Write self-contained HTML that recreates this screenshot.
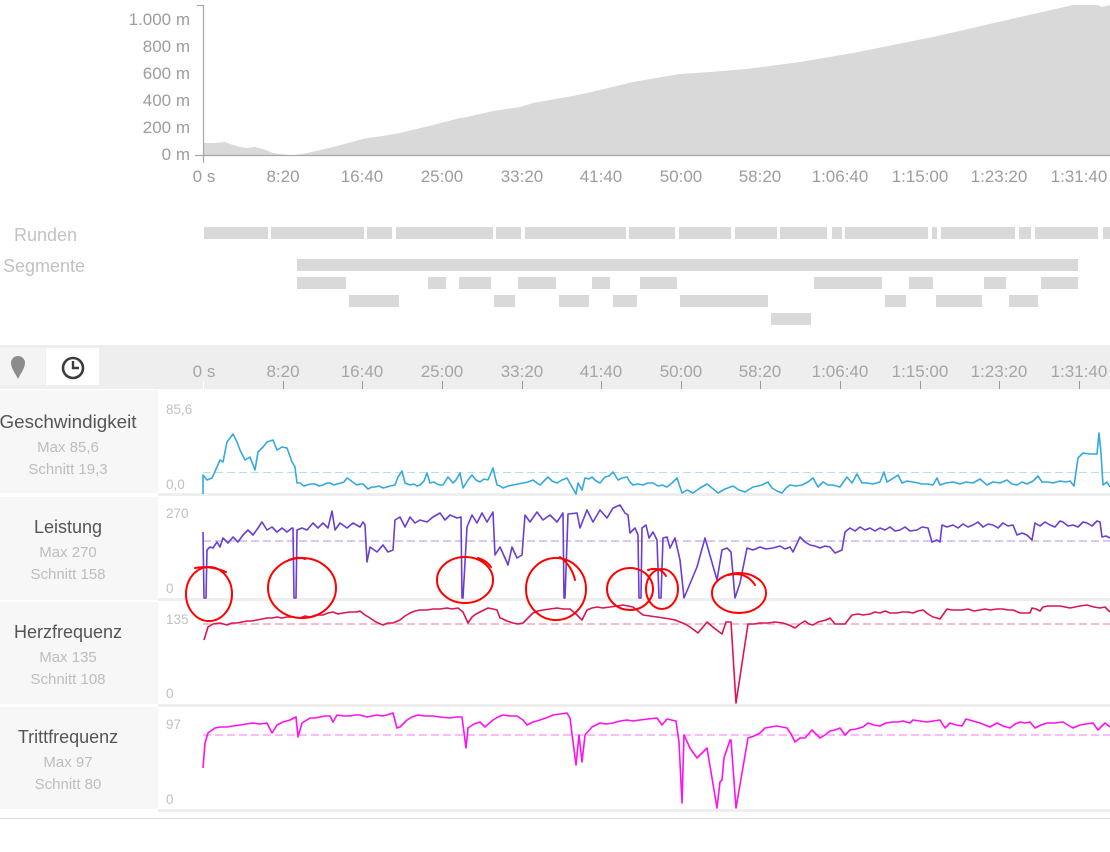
<!DOCTYPE html>
<html><head><meta charset="utf-8">
<style>
html,body{margin:0;padding:0;background:#fff;}
body{width:1110px;height:852px;overflow:hidden;}
svg{display:block;font-family:"Liberation Sans",sans-serif;}
</style></head>
<body>
<svg width="1110" height="852" viewBox="0 0 1110 852" xmlns="http://www.w3.org/2000/svg">
<rect width="1110" height="852" fill="#fff"/>

<!-- Elevation chart -->
<path d="M203,155 L203,143 L213,143 L225,142 L230,144 L240,147 L247,148 L255,147 L263,149 L273,153 L287,155 L295,155 L303,154 L333,147 L367,138 L383,136 L400,133 L433,125 L460,118 L467,117 L493,111 L520,107 L533,103 L567,97 L573,96 L600,90 L633,82 L680,74 L710,72 L747,69 L800,62 L853,53 L933,37 L1020,17 L1073,5 L1098,5 L1102,7 L1110,5 L1110,155 Z" fill="#d9d9d9"/>
<line x1="203.5" y1="5" x2="203.5" y2="163" stroke="#a8a8a8" stroke-width="1.2"/>
<line x1="197" y1="5.5" x2="203" y2="5.5" stroke="#a8a8a8" stroke-width="1.2"/>
<line x1="195" y1="155.5" x2="1110" y2="155.5" stroke="#a8a8a8" stroke-width="1.2"/>
<g fill="#9d9d9d" font-size="17" text-anchor="end">
<text x="190" y="25">1.000 m</text>
<text x="190" y="52">800 m</text>
<text x="190" y="79">600 m</text>
<text x="190" y="106">400 m</text>
<text x="190" y="133">200 m</text>
<text x="190" y="160">0 m</text>
</g>
<g fill="#9d9d9d" font-size="17" text-anchor="middle">
<text x="204" y="182">0 s</text>
<text x="283" y="182">8:20</text>
<text x="362" y="182">16:40</text>
<text x="442" y="182">25:00</text>
<text x="522" y="182">33:20</text>
<text x="601" y="182">41:40</text>
<text x="681" y="182">50:00</text>
<text x="760" y="182">58:20</text>
<text x="840" y="182">1:06:40</text>
<text x="920" y="182">1:15:00</text>
<text x="999" y="182">1:23:20</text>
<text x="1079" y="182">1:31:40</text>
</g>

<!-- Runden / Segmente -->
<g fill="#c2c2c2" font-size="18">
<text x="14" y="241">Runden</text>
<text x="3" y="272">Segmente</text>
</g>
<g fill="#d9d9d9">
<rect x="204" y="227" width="64" height="12"/>
<rect x="271" y="227" width="93" height="12"/>
<rect x="367" y="227" width="25" height="12"/>
<rect x="396" y="227" width="97" height="12"/>
<rect x="496" y="227" width="25" height="12"/>
<rect x="525" y="227" width="101" height="12"/>
<rect x="629" y="227" width="46" height="12"/>
<rect x="679" y="227" width="52" height="12"/>
<rect x="735" y="227" width="42" height="12"/>
<rect x="780" y="227" width="47" height="12"/>
<rect x="832" y="227" width="10" height="12"/>
<rect x="845" y="227" width="83" height="12"/>
<rect x="932" y="227" width="5" height="12"/>
<rect x="941" y="227" width="74" height="12"/>
<rect x="1019" y="227" width="12" height="12"/>
<rect x="1035" y="227" width="63" height="12"/>
<rect x="1103" y="227" width="7" height="12"/>

<rect x="297" y="259" width="781" height="12"/>

<rect x="297" y="277" width="49" height="12"/>
<rect x="428" y="277" width="18" height="12"/>
<rect x="459" y="277" width="32" height="12"/>
<rect x="518" y="277" width="38" height="12"/>
<rect x="592" y="277" width="18" height="12"/>
<rect x="640" y="277" width="37" height="12"/>
<rect x="814" y="277" width="68" height="12"/>
<rect x="909" y="277" width="24" height="12"/>
<rect x="984" y="277" width="22" height="12"/>
<rect x="1041" y="277" width="37" height="12"/>

<rect x="349" y="295" width="50" height="12"/>
<rect x="494" y="295" width="21" height="12"/>
<rect x="559" y="295" width="30" height="12"/>
<rect x="613" y="295" width="24" height="12"/>
<rect x="680" y="295" width="88" height="12"/>
<rect x="885" y="295" width="21" height="12"/>
<rect x="936" y="295" width="46" height="12"/>
<rect x="1009" y="295" width="29" height="12"/>

<rect x="771" y="313" width="40" height="12"/>
</g>

<!-- Toolbar band -->
<rect x="0" y="345" width="1110" height="44" fill="#eeeeee"/>
<rect x="0" y="348" width="45" height="37" fill="#f4f4f4"/>
<rect x="46" y="348" width="53" height="37" fill="#ffffff"/>
<path d="M18,379 C15,373 11,368 11,363 A7,7 0 0 1 25,363 C25,368 21,373 18,379 Z" fill="#8c8c8c"/>
<circle cx="73" cy="368" r="10" fill="none" stroke="#3c3c3c" stroke-width="2.6"/>
<path d="M73,361 L73,368 L79,368" fill="none" stroke="#3c3c3c" stroke-width="2.4"/>
<g fill="#a5a5a5" font-size="17" text-anchor="middle">
<text x="204" y="377">0 s</text>
<text x="283" y="377">8:20</text>
<text x="362" y="377">16:40</text>
<text x="442" y="377">25:00</text>
<text x="522" y="377">33:20</text>
<text x="601" y="377">41:40</text>
<text x="681" y="377">50:00</text>
<text x="760" y="377">58:20</text>
<text x="840" y="377">1:06:40</text>
<text x="920" y="377">1:15:00</text>
<text x="999" y="377">1:23:20</text>
<text x="1079" y="377">1:31:40</text>
</g>
<g stroke="#9a9a9a" stroke-width="1">
<line x1="203.5" y1="381" x2="203.5" y2="389" stroke="#ffffff"/>
<line x1="283.5" y1="381" x2="283.5" y2="389"/>
<line x1="362.5" y1="381" x2="362.5" y2="389"/>
<line x1="442.5" y1="381" x2="442.5" y2="389"/>
<line x1="522.5" y1="381" x2="522.5" y2="389"/>
<line x1="601.5" y1="381" x2="601.5" y2="389"/>
<line x1="681.5" y1="381" x2="681.5" y2="389"/>
<line x1="760.5" y1="381" x2="760.5" y2="389"/>
<line x1="840.5" y1="381" x2="840.5" y2="389"/>
<line x1="920.5" y1="381" x2="920.5" y2="389"/>
<line x1="999.5" y1="381" x2="999.5" y2="389"/>
<line x1="1079.5" y1="381" x2="1079.5" y2="389"/>
</g>

<!-- Left panels -->
<g fill="#f7f7f7">
<rect x="0" y="390" width="158" height="103"/>
<rect x="0" y="497" width="158" height="103"/>
<rect x="0" y="602" width="158" height="102"/>
<rect x="0" y="707" width="158" height="102"/>
</g>
<!-- chart separators -->
<g fill="#eeeeee">
<rect x="158" y="493" width="952" height="3"/>
<rect x="158" y="598" width="952" height="3"/>
<rect x="158" y="704" width="952" height="3"/>
<rect x="158" y="809" width="952" height="3"/>
</g>
<rect x="0" y="818" width="1110" height="1" fill="#dcdcdc"/>

<g text-anchor="middle">
<text x="68" y="428" font-size="18" fill="#555" textLength="137" lengthAdjust="spacingAndGlyphs">Geschwindigkeit</text>
<text x="68" y="452" font-size="15" fill="#bdbdbd">Max 85,6</text>
<text x="68" y="474" font-size="15" fill="#bdbdbd">Schnitt 19,3</text>

<text x="68" y="533" font-size="18" fill="#555">Leistung</text>
<text x="68" y="557" font-size="15" fill="#bdbdbd">Max 270</text>
<text x="68" y="579" font-size="15" fill="#bdbdbd">Schnitt 158</text>

<text x="68" y="638" font-size="18" fill="#555">Herzfrequenz</text>
<text x="68" y="662" font-size="15" fill="#bdbdbd">Max 135</text>
<text x="68" y="684" font-size="15" fill="#bdbdbd">Schnitt 108</text>

<text x="68" y="743" font-size="18" fill="#555">Trittfrequenz</text>
<text x="68" y="767" font-size="15" fill="#bdbdbd">Max 97</text>
<text x="68" y="789" font-size="15" fill="#bdbdbd">Schnitt 80</text>
</g>

<g fill="#c0c0c0" font-size="13.5">
<text x="166" y="414">85,6</text>
<text x="166" y="489">0,0</text>
<text x="166" y="518">270</text>
<text x="166" y="593">0</text>
<text x="166" y="624">135</text>
<text x="166" y="698">0</text>
<text x="166" y="729">97</text>
<text x="166" y="804">0</text>
</g>

<!-- average dashed lines -->
<line x1="203" y1="472.5" x2="1110" y2="472.5" stroke="#b6dff0" stroke-width="1" stroke-dasharray="8,4"/>
<line x1="203" y1="541" x2="1110" y2="541" stroke="#c9b6ef" stroke-width="1.5" stroke-dasharray="8,4"/>
<line x1="203" y1="624" x2="1110" y2="624" stroke="#f4a7c0" stroke-width="1.5" stroke-dasharray="8,4"/>
<line x1="203" y1="735" x2="1110" y2="735" stroke="#f8a6f8" stroke-width="1.5" stroke-dasharray="8,4"/>

<!-- Speed -->
<polyline fill="none" stroke="#33a9e0" stroke-width="1.6" stroke-linejoin="round" points="203,494 203,475 207,480 212,478 217,467 220,460 223,462 227,442 233,434 237,442 240,450 245,460 250,457 255,470 258,452 263,447 267,442 273,440 277,450 282,447 287,448 292,462 295,467 297,483 300,483 304,486 307,485 311,484 315,484 319,486 323,485 327,483 330,483 334,485 337,484 341,483 344,482 347,478 350,480 354,483 357,485 360,484 363,484 368,489 372,487 375,487 379,486 383,488 387,487 390,486 395,485 398,477 402,471 405,483 410,485 414,484 417,486 420,485 424,481 427,473 430,483 434,482 437,484 440,485 443,485 448,477 453,483 456,480 460,473 463,488 468,480 472,475 476,480 480,482 484,479 488,480 493,468 497,485 500,486 503,488 508,486 513,485 518,484 523,483 528,482 533,480 537,483 540,485 544,481 548,477 552,481 557,483 562,480 567,478 572,487 576,494 578,483 582,490 585,478 589,479 592,477 596,481 600,483 605,477 609,476 613,472 618,480 622,478 627,477 630,482 633,485 638,484 643,485 648,483 653,483 658,486 662,485 667,487 672,483 677,478 682,493 687,490 693,493 700,488 707,484 712,488 718,493 725,489 733,486 739,490 745,492 753,487 758,486 762,485 768,482 772,488 777,491 782,493 786,488 790,485 796,486 802,485 808,482 813,478 818,487 823,482 828,485 833,485 840,487 847,477 852,483 857,474 862,483 867,483 873,484 880,482 884,472 887,482 892,479 898,475 902,483 907,481 913,482 918,483 922,484 928,484 933,485 937,478 940,485 946,483 953,482 960,484 966,482 973,483 980,479 987,485 993,482 1000,483 1007,480 1012,484 1017,485 1022,482 1027,484 1033,481 1038,476 1042,482 1048,482 1053,483 1060,481 1066,482 1070,481 1074,486 1078,458 1083,453 1090,454 1097,454 1099,433 1101,453 1103,485 1107,482 1110,487"/>

<!-- Leistung -->
<polyline fill="none" stroke="#6a3dd4" stroke-width="1.6" stroke-linejoin="round" points="203,532 204,598 206,598 207,550 210,547 213,548 217,542 220,547 223,538 228,543 233,537 238,542 243,535 248,530 253,535 258,528 262,522 267,530 272,527 277,532 282,528 287,532 292,528 293,528 294,598 296,598 297,530 302,528 307,530 313,523 318,528 323,523 328,528 332,511 335,530 340,523 347,528 353,523 360,527 363,522 365,525 367,562 370,547 377,552 383,545 388,552 393,550 395,520 400,517 405,527 410,517 415,523 420,520 427,522 433,517 440,513 445,520 450,515 457,518 461,517 462,598 463,598 467,527 472,515 477,523 482,513 487,522 493,512 495,555 500,547 505,558 508,565 512,547 517,558 522,555 525,515 530,522 537,512 543,520 550,515 557,522 563,513 564,598 565,598 568,514 577,513 580,528 587,510 593,522 600,510 607,518 613,508 620,505 625,513 628,515 630,533 635,528 638,535 639,598 641,598 642,528 646,525 649,538 653,532 657,540 659,598 661,598 663,538 667,537 670,548 675,538 680,560 684,598 697,567 705,538 717,580 722,550 727,548 731,552 735,598 740,583 747,548 753,550 760,547 766,549 773,548 780,546 785,549 790,547 793,552 800,537 805,542 810,545 815,546 820,548 825,546 830,547 835,553 842,550 845,532 850,528 855,531 860,527 865,530 870,528 875,531 880,528 885,530 890,527 895,531 900,530 905,527 910,531 917,530 922,527 928,528 932,542 937,540 940,542 942,525 947,527 953,525 958,528 963,524 968,527 973,525 978,522 983,527 988,524 993,525 998,528 1003,523 1008,526 1013,525 1017,535 1022,533 1027,535 1032,540 1035,523 1040,526 1045,522 1050,525 1055,527 1060,521 1063,522 1068,526 1073,525 1078,527 1083,522 1087,523 1092,526 1097,521 1100,522 1102,537 1106,536 1110,538"/>

<!-- Herzfrequenz -->
<polyline fill="none" stroke="#dc1450" stroke-width="1.6" stroke-linejoin="round" points="204,640 208,627 213,624 220,623 227,625 232,623 237,623 242,622 247,621 252,621 257,620 262,619 267,618 272,618 277,617 282,618 287,617 293,617 300,618 305,616 310,617 316,615 323,615 328,613 333,612 338,614 343,613 350,612 357,612 360,611 365,615 370,618 376,622 383,625 388,623 393,623 400,620 405,616 410,613 415,611 420,610 427,610 433,609 440,609 447,608 452,609 458,608 463,612 468,623 472,617 476,614 480,612 484,610 488,608 493,609 497,610 500,618 503,619 507,621 510,622 513,623 518,624 523,623 528,618 533,613 538,611 543,610 550,609 557,608 563,609 570,609 576,614 582,620 587,610 592,608 597,607 603,608 610,607 617,606 623,605 628,606 633,607 638,611 643,615 650,616 657,617 664,618 670,619 675,620 680,622 685,624 690,627 694,630 698,633 703,627 707,622 714,628 722,634 726,622 731,622 736,703 748,624 754,624 760,623 768,623 775,622 783,623 789,625 795,628 800,624 805,621 809,624 813,625 818,622 822,621 826,620 830,618 835,624 840,624 845,624 852,615 858,614 863,615 870,614 875,612 880,613 885,611 890,613 897,613 902,612 908,612 913,613 918,611 923,610 928,614 933,617 937,618 940,619 947,609 952,610 957,610 963,610 968,609 974,611 980,610 985,609 990,610 997,609 1003,609 1008,610 1013,610 1020,613 1025,613 1030,613 1032,608 1036,609 1040,611 1043,607 1048,606 1054,606 1060,606 1065,607 1070,608 1075,607 1080,606 1087,605 1094,607 1100,608 1105,607 1110,612"/>

<!-- Trittfrequenz -->
<polyline fill="none" stroke="#ff10f0" stroke-width="1.6" stroke-linejoin="round" points="203,768 205,743 208,733 215,728 221,727 227,727 233,726 240,725 246,724 253,723 260,724 267,723 272,733 277,725 283,722 290,720 296,717 298,737 302,723 310,718 315,718 320,717 325,716 330,716 333,722 337,715 344,716 350,716 355,715 360,715 367,717 372,716 377,715 382,716 387,715 393,713 397,728 400,727 407,720 412,717 418,715 425,716 433,716 440,717 450,718 456,717 462,717 466,748 468,728 474,724 480,722 485,727 493,720 498,717 503,715 510,716 517,716 523,720 527,725 533,722 540,720 546,718 553,715 560,714 567,713 570,718 576,765 579,735 582,762 585,735 592,727 600,723 606,724 613,723 620,721 627,720 633,721 640,720 648,719 657,718 662,725 667,719 676,721 679,742 682,803 684,735 690,748 697,758 703,752 707,748 717,808 720,782 722,780 724,758 730,740 731,740 736,808 748,738 754,736 760,733 765,728 771,727 777,726 782,727 787,728 791,734 795,742 800,738 805,738 812,730 816,734 820,738 825,735 830,731 835,730 840,728 845,735 850,730 856,729 863,727 868,723 874,725 880,726 886,723 893,722 898,722 903,721 910,723 913,720 920,721 927,722 933,721 940,720 945,728 950,723 956,725 962,726 966,719 973,721 980,723 985,725 990,727 997,723 1003,726 1010,728 1015,724 1020,722 1025,723 1030,722 1035,728 1041,725 1047,723 1055,723 1063,722 1068,725 1073,728 1080,725 1086,724 1093,723 1098,730 1105,723 1110,727"/>

<!-- Red annotation circles -->
<g fill="none" stroke="#ff0000" stroke-width="2" stroke-linecap="round">
<ellipse cx="209" cy="594" rx="23" ry="27"/>
<path d="M195,568 Q210,565 226,572"/>
<ellipse cx="302" cy="588" rx="34" ry="30"/>
<path d="M289,560 Q298,556 305,559"/>
<ellipse cx="465" cy="580" rx="28" ry="23"/>
<path d="M478,558 Q487,561 491,567"/>
<ellipse cx="556" cy="589" rx="30" ry="31"/>
<path d="M560,557 Q572,566 575,580"/>
<ellipse cx="630" cy="589" rx="23" ry="21"/>
<ellipse cx="662" cy="589" rx="16" ry="20"/>
<path d="M648,570 Q660,566 666,576"/>
<ellipse cx="739" cy="593" rx="27" ry="20"/>
<path d="M728,575 Q746,571 755,585"/>
</g>
</svg>
</body></html>
